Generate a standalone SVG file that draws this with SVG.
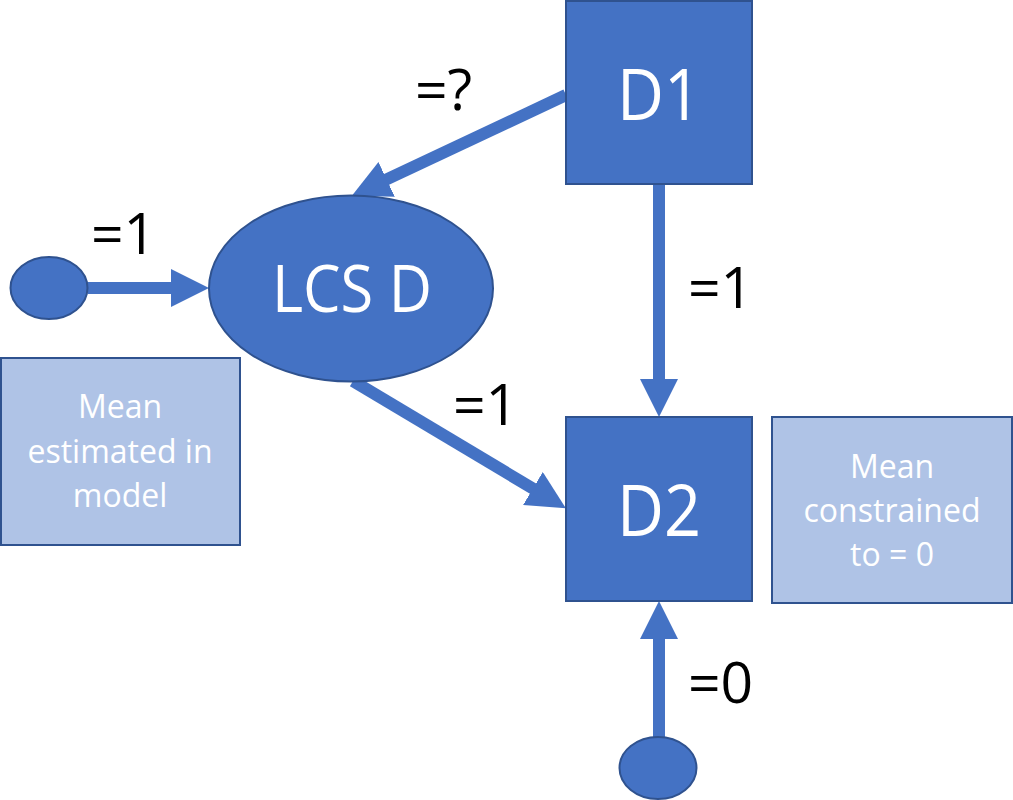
<svg xmlns="http://www.w3.org/2000/svg" width="1013" height="800" viewBox="0 0 1013 800">
<style>
.node{fill:#4472C4;stroke:#2F528F;stroke-width:2}
.note{fill:#AFC3E6;stroke:#2F528F;stroke-width:2}
.conn{stroke:#4472C4;stroke-width:12;fill:none}
.big{font-family:"Open Sans","Liberation Sans",sans-serif;fill:#fff;text-anchor:middle}
.small{font-family:"Open Sans","Liberation Sans",sans-serif;fill:#fff;font-size:32px;text-anchor:middle}
.lbl{font-family:"Open Sans","Liberation Sans",sans-serif;fill:#000;font-size:57px}
</style>
<defs>
<marker id="ah" markerUnits="strokeWidth" markerWidth="3.2" markerHeight="3.2" refX="0.3" refY="1.6" orient="auto" viewBox="0 0 3.2 3.2">
<path d="M0,0 L3.2,1.6 L0,3.2 Z" fill="#4472C4"/>
</marker>
</defs>
<rect width="1013" height="800" fill="#fff"/>
<g id="connectors">
<line class="conn" x1="88" y1="288" x2="174.2" y2="288" marker-end="url(#ah)"/>
<line class="conn" x1="659" y1="184" x2="659" y2="382.2" marker-end="url(#ah)"/>
<line class="conn" x1="659" y1="738" x2="659" y2="635.8" marker-end="url(#ah)"/>
<line class="conn" x1="566" y1="95" x2="383.4" y2="180.9" marker-end="url(#ah)"/>
<line class="conn" x1="353" y1="381" x2="536" y2="490.4" marker-end="url(#ah)"/>
</g>
<g id="node-D1">
<rect class="node" x="566" y="1" width="186" height="183"/>
<text class="big" x="659" y="120" font-size="72" textLength="84" lengthAdjust="spacingAndGlyphs">D1</text>
</g>
<g id="node-D2">
<rect class="node" x="566" y="417" width="186" height="184"/>
<text class="big" x="659" y="536" font-size="72" textLength="84" lengthAdjust="spacingAndGlyphs">D2</text>
</g>
<g id="node-LCSD">
<ellipse class="node" cx="351" cy="288.5" rx="142" ry="93"/>
<text class="big" x="352" y="312" font-size="65" textLength="160" lengthAdjust="spacingAndGlyphs">LCS D</text>
</g>
<g id="node-mean1">
<ellipse class="node" cx="49" cy="288" rx="38.5" ry="31"/>
</g>
<g id="node-mean2">
<ellipse class="node" cx="658" cy="768" rx="38.5" ry="31"/>
</g>
<g id="note-estimated">
<rect class="note" x="1" y="358" width="239" height="187"/>
<text class="small" x="120" y="418">Mean</text>
<text class="small" x="120" y="463">estimated in</text>
<text class="small" x="120" y="507">model</text>
</g>
<g id="note-constrained">
<rect class="note" x="772" y="417" width="240" height="186"/>
<text class="small" x="892" y="478">Mean</text>
<text class="small" x="892" y="522">constrained</text>
<text class="small" x="892" y="566">to = 0</text>
</g>
<g id="labels">
<text class="lbl" x="415" y="110">=?</text>
<text class="lbl" x="91" y="254">=1</text>
<text class="lbl" x="688" y="308">=1</text>
<text class="lbl" x="453" y="425">=1</text>
<text class="lbl" x="688" y="703">=0</text>
</g>
</svg>
